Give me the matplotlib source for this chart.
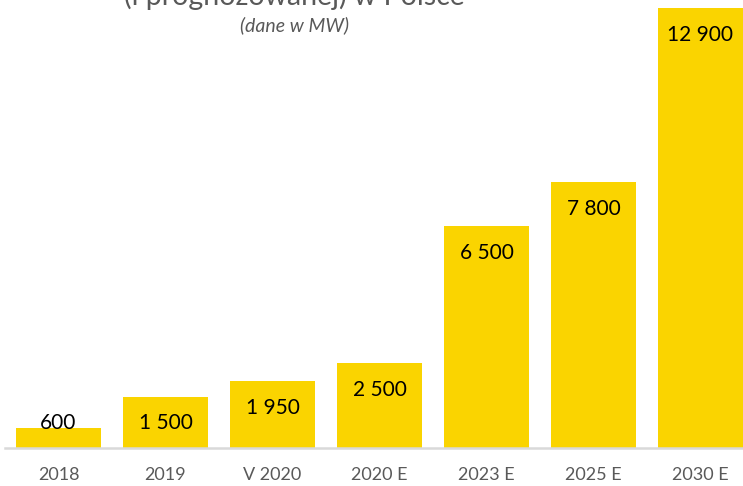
import matplotlib
matplotlib.use("Agg")
import matplotlib.pyplot as plt

categories = ["2018", "2019", "V 2020", "2020 E", "2023 E", "2025 E", "2030 E"]
values = [600, 1500, 1950, 2500, 6500, 7800, 12900]
value_labels = ["600", "1 500", "1 950", "2 500", "6 500", "7 800", "12 900"]
title_visible = "(i prognozowanej) w Polsce"
subtitle = "(dane w MW)"

plt.rcParams['font.family'] = ['Lato', 'DejaVu Sans']

W, H = 743, 486
fig = plt.figure(figsize=(W / 100, H / 100), dpi=100)
fig.patch.set_facecolor("white")

left_px, right_px = 5, 754
base_px = 448
ax = fig.add_axes([left_px / W, (H - base_px) / H, (right_px - left_px) / W, base_px / H])
ymax = 12900 * 448 / 440
ax.set_ylim(0, ymax)
ax.set_xlim(-0.5, len(categories) - 0.5)

bar_color = "#FAD400"
ax.bar(range(len(categories)), values, width=0.8, color=bar_color, zorder=2)

unit_per_px = ymax / base_px
for i, (v, lab) in enumerate(zip(values, value_labels)):
    y = max(v - 27 * unit_per_px, 25 * unit_per_px)
    ax.text(i, y, lab, ha="center", va="center", fontsize=15, color="#000000", zorder=3)

for s in ["top", "right", "left"]:
    ax.spines[s].set_visible(False)
ax.spines["bottom"].set_color("#D9D9D9")
ax.spines["bottom"].set_linewidth(1.8)
ax.set_yticks([])
ax.set_xticks(range(len(categories)))
ax.set_xticklabels(categories, fontsize=13, color="#595959")
ax.tick_params(axis="x", length=0, pad=14)

# Title (mostly cut off above the image, as in the reference)
fig.text(294 / W, 1 - 5 / H, title_visible, ha="center", va="baseline",
         fontsize=20.5, color="#595959")
fig.text(294 / W, 1 - 25 / H, subtitle, ha="center", va="center",
         fontsize=14, style="italic", color="#595959")

fig.savefig("out.png", dpi=100, facecolor="white")
